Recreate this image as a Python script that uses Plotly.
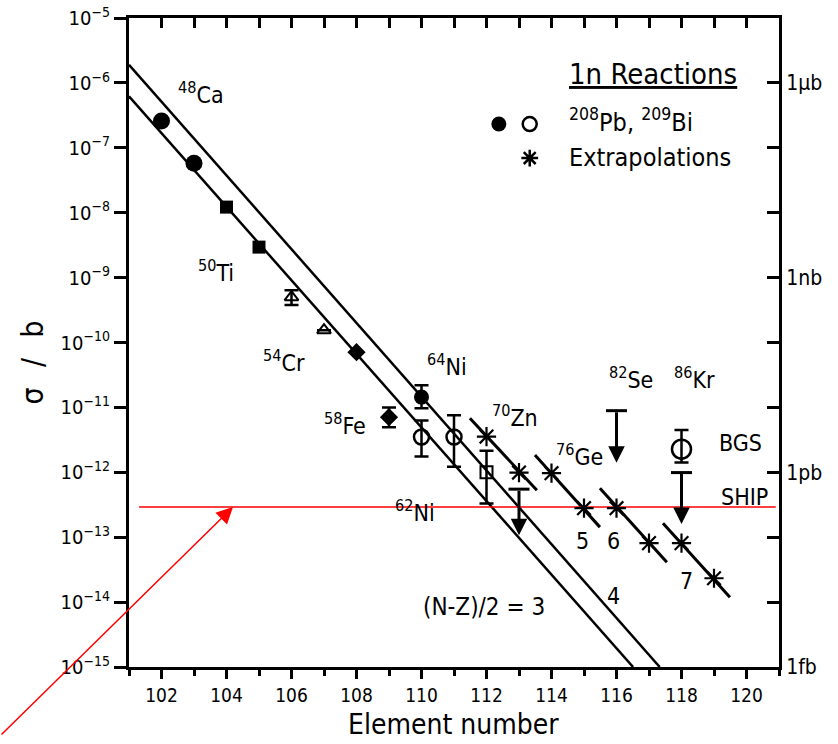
import math
import plotly.graph_objects as go

# ---------------- data ----------------
# fitted systematics lines (N-Z)/2 = 3 and 4
n3_x = [101.0, 116.51]
n3_y = [6.2e-7, 1e-15]
n4_x = [101.0, 117.33]
n4_y = [1.9e-6, 1e-15]

# measured 1n cross sections
ca_x = [102, 103]
ca_y = [2.58e-7, 5.8e-8]
ti_x = [104, 105]
ti_y = [1.22e-8, 2.95e-9]
cr_x = [106, 107]
cr_y = [5.0e-10, 1.55e-10]
cr_hi = [6.4e-10, 1.55e-10]
cr_lo = [3.77e-10, 1.55e-10]
fe_x = [108, 109]
fe_y = [7.1e-11, 7.06e-12]
fe_hi = [7.1e-11, 1.0e-11]
fe_lo = [7.1e-11, 4.95e-12]
ni64_x = [110]
ni64_y = [1.44e-11]
ni64_hi = [2.2e-11]
ni64_lo = [9.7e-12]
bi_x = [110, 111]
bi_y = [3.5e-12, 3.5e-12]
bi_hi = [6.3e-12, 7.6e-12]
bi_lo = [1.75e-12, 1.22e-12]
zn_x = [112]
zn_y = [1.0e-12]
zn_hi = [2.15e-12]
zn_lo = [3.3e-13]
bgs_x = [118]
bgs_y = [2.27e-12]
bgs_hi = [4.5e-12]
bgs_lo = [1.41e-12]

# upper limits (cap value -> arrow tip)
lim_x = [113, 116, 118]
lim_top = [5.5e-13, 8.9e-12, 9.9e-13]
lim_tip = [1.07e-13, 1.4e-12, 1.6e-13]

# extrapolations
star_x = [112, 113, 114, 115, 116, 117, 118, 119]
star_y = [3.55e-12, 9.9e-13, 9.7e-13, 2.8e-13, 2.8e-13, 8.1e-14, 8.1e-14, 2.33e-14]
seg_x0 = [111.49, 113.49, 115.49, 117.43]
seg_x1 = [113.55, 115.49, 117.55, 119.49]
seg_y0 = [6.8e-12, 1.84e-12, 5.7e-13, 1.64e-13]
seg_y1 = [5.3e-13, 1.43e-13, 4.1e-14, 1.19e-14]

# red reference level
red_x = [101.31, 120.90]
red_level = 2.92e-13

# axis ticks
left_exp = list(range(5, 16))
right_vals = [1e-6, 1e-9, 1e-12, 1e-15]
right_text = ["1\u03bcb", "1nb", "1pb", "1fb"]

# ---------------- figure ----------------
FONT_NUM = "DejaVu Sans Condensed, DejaVu Sans, sans-serif"
FONT_TXT = "DejaVu Sans Condensed, DejaVu Sans, sans-serif"
K = "black"

fig = go.Figure()


def err(y, hi, lo):
    return dict(type="data", symmetric=False,
                array=[h - v for h, v in zip(hi, y)],
                arrayminus=[v - l for v, l in zip(y, lo)],
                color=K, thickness=2.5, width=7)


for xs, ys in ((n3_x, n3_y), (n4_x, n4_y)):
    fig.add_trace(go.Scatter(x=xs, y=ys, mode="lines",
                             line=dict(color=K, width=2.5)))

sx, sy = [], []
for a, b, c, d in zip(seg_x0, seg_x1, seg_y0, seg_y1):
    sx += [a, b, None]
    sy += [c, d, None]
fig.add_trace(go.Scatter(x=sx, y=sy, mode="lines", line=dict(color=K, width=3)))

# red reference line
fig.add_trace(go.Scatter(x=red_x, y=[red_level] * len(red_x), mode="lines",
                         line=dict(color="#ff0000", width=1.5)))

fig.add_trace(go.Scatter(x=ca_x, y=ca_y, mode="markers",
                         marker=dict(symbol="circle", size=17, color=K)))
fig.add_trace(go.Scatter(x=ti_x, y=ti_y, mode="markers",
                         marker=dict(symbol="square", size=13, color=K)))
fig.add_trace(go.Scatter(x=cr_x, y=cr_y, mode="markers", error_y=err(cr_y, cr_hi, cr_lo),
                         marker=dict(symbol="triangle-up-open", size=12, color=K,
                                     line=dict(width=2, color=K))))
fig.add_trace(go.Scatter(x=fe_x, y=fe_y, mode="markers", error_y=err(fe_y, fe_hi, fe_lo),
                         marker=dict(symbol="diamond", size=14, color=K)))
fig.add_trace(go.Scatter(x=ni64_x, y=ni64_y, mode="markers", error_y=err(ni64_y, ni64_hi, ni64_lo),
                         marker=dict(symbol="circle", size=15, color=K)))
fig.add_trace(go.Scatter(x=bi_x, y=bi_y, mode="markers", error_y=err(bi_y, bi_hi, bi_lo),
                         marker=dict(symbol="circle-open", size=15, color=K,
                                     line=dict(width=2.5, color=K))))
fig.add_trace(go.Scatter(x=zn_x, y=zn_y, mode="markers", error_y=err(zn_y, zn_hi, zn_lo),
                         marker=dict(symbol="square-open", size=12, color=K,
                                     line=dict(width=2, color=K))))
fig.add_trace(go.Scatter(x=bgs_x, y=bgs_y, mode="markers", error_y=err(bgs_y, bgs_hi, bgs_lo),
                         marker=dict(symbol="circle-open", size=19, color=K,
                                     line=dict(width=2.5, color=K))))
fig.add_trace(go.Scatter(x=star_x, y=star_y, mode="markers",
                         marker=dict(symbol="asterisk-open", size=16, color=K,
                                     line=dict(width=2.2, color=K))))
# upper-limit caps
fig.add_trace(go.Scatter(x=lim_x, y=lim_top, mode="markers",
                         marker=dict(symbol="line-ew-open", size=15, color=K,
                                     line=dict(width=3, color=K))))
for lx, top, tip in zip(lim_x, lim_top, lim_tip):
    fig.add_annotation(x=lx, y=math.log10(tip), ax=lx, ay=math.log10(top),
                       xref="x", yref="y", axref="x", ayref="y", text="",
                       showarrow=True, arrowhead=2, arrowsize=1.1, arrowwidth=3,
                       arrowcolor=K, standoff=0, startstandoff=0)

# legend keys
fig.add_trace(go.Scatter(x=[112.38], y=[10 ** -6.634], mode="markers", cliponaxis=False,
                         marker=dict(symbol="circle", size=15, color=K)))
fig.add_trace(go.Scatter(x=[113.33], y=[10 ** -6.634], mode="markers", cliponaxis=False,
                         marker=dict(symbol="circle-open", size=14, color=K,
                                     line=dict(width=2.5, color=K))))
fig.add_trace(go.Scatter(x=[113.33], y=[10 ** -7.158], mode="markers", cliponaxis=False,
                         marker=dict(symbol="asterisk-open", size=14, color=K,
                                     line=dict(width=2.5, color=K))))

# dummy trace for the mirrored axes
fig.add_trace(go.Scatter(x=[None], y=[None], xaxis="x2", yaxis="y2"))


def lab(text, x, ylog, size=23, xanchor="center"):
    fig.add_annotation(x=x, y=ylog, text=text, showarrow=False, xref="x", yref="y",
                       xanchor=xanchor, yanchor="middle",
                       font=dict(family=FONT_TXT, size=size, color=K))


lab("<sup>48</sup>Ca", 103.22, -6.15)
lab("<sup>50</sup>Ti", 103.67, -8.90)
lab("<sup>54</sup>Cr", 105.76, -10.29)
lab("<sup>58</sup>Fe", 107.66, -11.26)
lab("<sup>62</sup>Ni", 109.79, -12.60)
lab("<sup>64</sup>Ni", 110.79, -10.34)
lab("<sup>70</sup>Zn", 112.89, -11.14)
lab("<sup>76</sup>Ge", 114.87, -11.74)
lab("<sup>82</sup>Se", 116.46, -10.54)
lab("<sup>86</sup>Kr", 118.41, -10.54)
lab("BGS", 119.81, -11.55)
lab("SHIP", 119.95, -12.38)
lab("5", 114.95, -13.06)
lab("6", 115.92, -13.06)
lab("7", 118.15, -13.67)
lab("4", 115.92, -13.90)
lab("(N-Z)/2 = 3", 111.92, -14.07, size=24)
lab("<u>1n Reactions</u>", 117.13, -5.86, size=29)
lab("<sup>208</sup>Pb, <sup>209</sup>Bi", 114.47, -6.58, size=25, xanchor="left")
lab("Extrapolations", 114.47, -7.15, size=25, xanchor="left")

# red arrow
fig.add_annotation(x=104.2, y=math.log10(red_level), xref="x", yref="y", text="",
                   showarrow=True, ax=-233, ay=229, arrowhead=2, arrowsize=2.2,
                   arrowwidth=1.5, arrowcolor="#ff0000", standoff=0)

# axis titles
fig.add_annotation(text="Element number", xref="paper", yref="paper", x=0.499, y=-0.0885,
                   showarrow=False, xanchor="center", yanchor="middle",
                   font=dict(family=FONT_TXT, size=28, color=K))
fig.add_annotation(text="\u03c3\u2002\u2005/\u2002\u2005b", xref="paper", yref="paper",
                   x=-0.148, y=0.469,
                   showarrow=False, textangle=-90, xanchor="center", yanchor="middle",
                   font=dict(family=FONT_TXT, size=30, color=K))

axis_common = dict(showgrid=False, zeroline=False, showline=True, linewidth=3,
                   linecolor=K, tickcolor=K, tickwidth=2.5, automargin=False)

fig.update_layout(
    width=838, height=744,
    margin=dict(l=129, r=59, t=18, b=77, autoexpand=False),
    paper_bgcolor="white", plot_bgcolor="white",
    showlegend=False,
    xaxis=dict(range=[101, 121], tick0=102, dtick=2, ticks="outside", ticklen=9,
               tickfont=dict(family=FONT_NUM, size=19, color=K),
               minor=dict(dtick=1, tick0=101, ticks="outside", ticklen=6, tickwidth=2.5,
                          tickcolor=K, showgrid=False),
               **axis_common),
    xaxis2=dict(range=[101, 121], overlaying="x", side="top", anchor="y", tick0=101, dtick=1,
                ticks="inside", ticklen=10, showticklabels=False, **axis_common),
    yaxis=dict(type="log", range=[-15, -5],
               tickvals=[10.0 ** (-e) for e in left_exp],
               ticktext=["10<sup>\u2212%d</sup>" % e for e in left_exp],
               ticks="outside", ticklen=12,
               tickfont=dict(family=FONT_NUM, size=20, color=K), **axis_common),
    yaxis2=dict(type="log", range=[-15, -5], overlaying="y", side="right", anchor="x",
                tickvals=[10.0 ** (-e) for e in left_exp],
                ticktext=[dict(zip(right_vals, right_text)).get(10.0 ** (-e), "")
                          for e in left_exp],
                ticks="inside", ticklen=12,
                tickfont=dict(family=FONT_TXT, size=21, color=K), **axis_common),
)

fig.write_html("out.html", config={"displayModeBar": False},
               post_script="document.body.style.margin='0';document.body.style.overflow='hidden';")
